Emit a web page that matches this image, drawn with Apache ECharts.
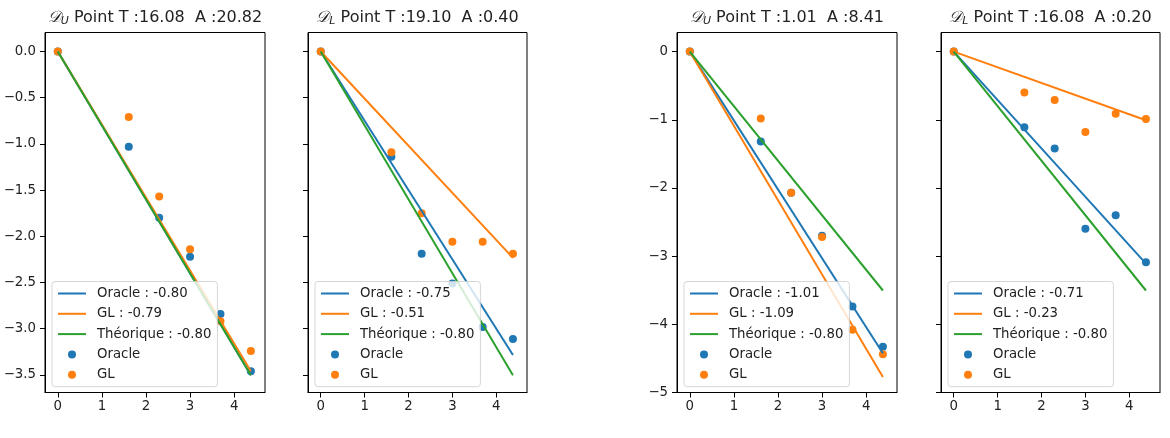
<!DOCTYPE html>
<html>
<head>
<meta charset="utf-8">
<script src="https://cdn.jsdelivr.net/npm/echarts@6/dist/echarts.min.js"></script>
<style>
  html, body { margin: 0; padding: 0; background: #fff; }
  #chart { width: 1170px; height: 438px; }
</style>
</head>
<body>
<div id="chart"></div>
<script>
// abscisses communes (log)
const xVals = [0, 1.61, 2.30, 3.00, 3.69, 4.38];

// titres des 4 panneaux
const titleSubs = ['U', 'L', 'U', 'L'];
const titleTexts = [
    'Point T :16.08  A :20.82',
    'Point T :19.10  A :0.40',
    'Point T :1.01  A :8.41',
    'Point T :16.08  A :0.20'
];

// pentes des droites
const oracleSlopes = [-0.80, -0.75, -1.01, -0.71];
const glSlopes = [-0.79, -0.51, -1.09, -0.23];
const theoSlope = -0.80;

// points mesurés
const oraclePoints = [
    [0, -1.03, -1.80, -2.22, -2.84, -3.46],
    [0, -1.14, -2.19, -2.51, -2.98, -3.11],
    [0, -1.32, -2.07, -2.70, -3.74, -4.33],
    [0, -1.11, -1.42, -2.60, -2.40, -3.09]
];
const glPoints = [
    [0, -0.71, -1.57, -2.14, -2.92, -3.24],
    [0, -1.09, -1.75, -2.06, -2.06, -2.19],
    [0, -0.98, -2.07, -2.72, -4.08, -4.44],
    [0, -0.60, -0.71, -1.18, -0.91, -0.99]
];

// graduations
const xTicks = [0, 1, 2, 3, 4];
const yTicksA = [-3.5, -3.0, -2.5, -2.0, -1.5, -1.0, -0.5, 0.0];
const yTicksB = [-5, -4, -3, -2, -1, 0];

const BLUE = '#1f77b4';
const ORANGE = '#ff7f0e';
const GREEN = '#2ca02c';
const FONT = 'DejaVu Sans';

const grids = [
    { left: 45, width: 220 },
    { left: 308, width: 219 },
    { left: 677, width: 220 },
    { left: 941, width: 219 }
];
const yRanges = [
    [-3.69, 0.205], [-3.69, 0.205], [-5.0, 0.28], [-5.0, 0.28]
];

const fmtMinus = (v, dec) => (v < 0 ? '\u2212' : '') + Math.abs(v).toFixed(dec);

const buildOption = () => {
    const option = {
        animation: false,
        backgroundColor: '#fff',
        title: [],
        grid: [],
        xAxis: [],
        yAxis: [],
        legend: [],
        series: []
    };
    const xLast = xVals[xVals.length - 1];

    grids.forEach((g, i) => {
        const center = g.left + g.width / 2;
        option.title.push({
            text: '{d|\uD835\uDC9F}{s|' + titleSubs[i] + '} ' + titleTexts[i],
            left: center,
            textAlign: 'center',
            top: 8,
            padding: 0,
            textStyle: {
                fontFamily: FONT,
                fontSize: 16,
                fontWeight: 'normal',
                color: '#222',
                rich: {
                    d: { fontFamily: FONT, fontSize: 16, color: '#222', fontStyle: 'italic' },
                    s: { fontFamily: FONT, fontSize: 11, color: '#222', fontStyle: 'italic', padding: [8, 0, 0, 0] }
                }
            }
        });

        option.grid.push({
            left: g.left,
            top: 32.5,
            width: g.width,
            height: 360,
            show: true,
            borderColor: '#000',
            borderWidth: 1,
            backgroundColor: 'transparent'
        });

        option.xAxis.push({
            type: 'value',
            gridIndex: i,
            min: -0.29,
            max: 4.70,
            splitLine: { show: false },
            axisLine: { show: true, onZero: false, lineStyle: { color: '#000', width: 1 } },
            axisTick: { show: true, length: 5, lineStyle: { color: '#000' }, customValues: xTicks },
            axisLabel: {
                customValues: xTicks,
                margin: 8,
                fontFamily: FONT,
                fontSize: 13.3,
                color: '#222',
                formatter: v => fmtMinus(v, 0)
            }
        });

        const yTicks = i < 2 ? yTicksA : yTicksB;
        option.yAxis.push({
            type: 'value',
            gridIndex: i,
            min: yRanges[i][0],
            max: yRanges[i][1],
            splitLine: { show: false },
            axisLine: { show: true, onZero: false, lineStyle: { color: '#000', width: 1 } },
            axisTick: { show: true, length: 5, lineStyle: { color: '#000' }, customValues: yTicks },
            axisLabel: {
                show: i === 0 || i === 2,
                customValues: yTicks,
                margin: 9,
                fontFamily: FONT,
                fontSize: 13.3,
                color: '#222',
                formatter: v => fmtMinus(v, i < 2 ? 1 : 0)
            }
        });

        const oracleName = 'Oracle : ' + oracleSlopes[i].toFixed(2);
        const glName = 'GL : ' + glSlopes[i].toFixed(2);
        const theoName = 'Th\u00e9orique : ' + theoSlope.toFixed(2);

        const lineSeries = (name, slope, color) => ({
            name: name,
            type: 'line',
            xAxisIndex: i,
            yAxisIndex: i,
            symbol: 'none',
            z: 3,
            lineStyle: { color: color, width: 2 },
            itemStyle: { color: color },
            data: [[0, 0], [xLast, slope * xLast]]
        });
        option.series.push(lineSeries(oracleName, oracleSlopes[i], BLUE));
        option.series.push(lineSeries(glName, glSlopes[i], ORANGE));
        option.series.push(lineSeries(theoName, theoSlope, GREEN));

        option.series.push({
            name: 'Oracle',
            type: 'scatter',
            xAxisIndex: i,
            yAxisIndex: i,
            symbolSize: 8,
            z: 2,
            itemStyle: { color: BLUE, opacity: 1 },
            data: xVals.map((x, k) => [x, oraclePoints[i][k]])
        });
        option.series.push({
            name: 'GL',
            type: 'scatter',
            xAxisIndex: i,
            yAxisIndex: i,
            symbolSize: 8,
            z: 2,
            itemStyle: { color: ORANGE, opacity: 1 },
            data: xVals.map((x, k) => [x, glPoints[i][k]])
        });

        // pas de marqueur au milieu des traits de la légende
        const noDot = { opacity: 0 };
        option.legend.push({
            data: [
                { name: oracleName, itemStyle: noDot },
                { name: glName, itemStyle: noDot },
                { name: theoName, itemStyle: noDot },
                'Oracle',
                'GL'
            ],
            orient: 'vertical',
            left: g.left + 7,
            top: 281.5,
            padding: [5, 6, 5, 5],
            itemWidth: 28,
            itemHeight: 8,
            itemGap: 6.3,
            backgroundColor: 'rgba(255,255,255,0.8)',
            borderColor: 'rgba(204,204,204,0.8)',
            borderWidth: 1,
            borderRadius: 3,
            selectedMode: false,
            textStyle: {
                fontFamily: FONT,
                fontSize: 13.3,
                lineHeight: 14,
                color: '#222',
                padding: [0, 0, 0, 6]
            }
        });
    });
    return option;
};

const initChart = () => {
    const chart = echarts.init(document.getElementById('chart'));
    chart.setOption(buildOption());
};

window.addEventListener('load', initChart);
</script>
</body>
</html>
